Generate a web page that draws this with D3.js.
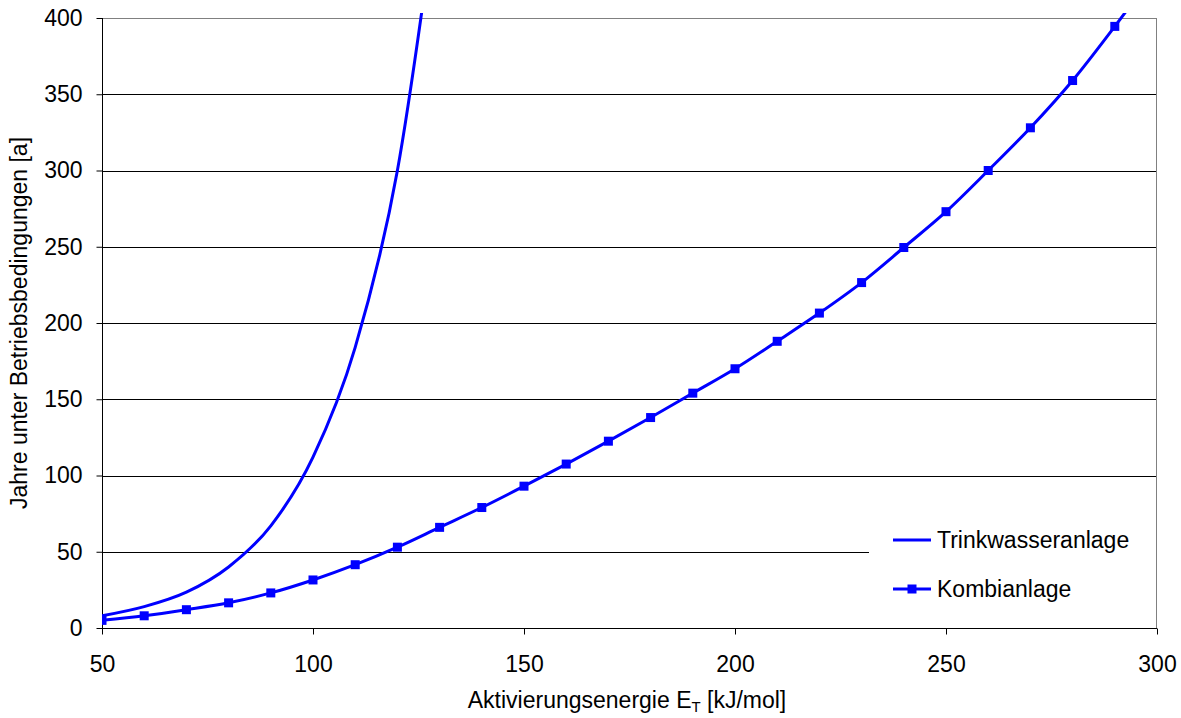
<!DOCTYPE html>
<html><head><meta charset="utf-8">
<script src="https://cdn.jsdelivr.net/npm/d3@7"></script>
<style>body{margin:0;background:#fff}svg{display:block}text{font-family:"Liberation Sans",Arial,sans-serif;fill:#000}</style>
</head><body>
<svg id="c" width="1181" height="718"></svg>
<script>
const energyTrink = [50,60,70,80,90,100,110,120,130];
const yearsTrink  = [8,14,23.5,40,67,112,184,300,490];
const energyKombi = [50,60,70,80,90,100,110,120,130,140,150,160,170,180,190,200,210,220,230,240,250,260,270,280,290,300];
const yearsKombi  = [5,8,12,16.5,23,31.5,41.5,53,66,79,93,107.5,122.5,138,154,170,188,206.5,226.5,249.5,273,300,328,359,394.5,432];
const xTicks = [50,100,150,200,250,300];
const yTicks = [0,50,100,150,200,250,300,350,400];
const seriesNames = ["Trinkwasseranlage","Kombianlage"];

const svg = d3.select("#c");
const L=102, R=1157, T=18, B=628;
const FS=23;
const x = d3.scaleLinear().domain([50,300]).range([L,R]);
const y = d3.scaleLinear().domain([0,400]).range([B,T]);
const blue="#0000ff";

// gridlines
svg.append("g").selectAll("line").data(yTicks.filter(d=>d>0)).join("line")
  .attr("x1",L).attr("x2",R).attr("y1",d=>Math.round(y(d))+0.5).attr("y2",d=>Math.round(y(d))+0.5)
  .attr("stroke",d=>d===400?"#808080":"#000").attr("stroke-width",1);
// right border
svg.append("line").attr("x1",R-0.5).attr("x2",R-0.5).attr("y1",T).attr("y2",B).attr("stroke","#808080");

// legend box (hides gridline)
svg.append("rect").attr("x",869).attr("y",513).attr("width",R-1-869).attr("height",B-1-513).attr("fill","#fff");

// axes
const xAxis = d3.axisBottom(x).tickValues(xTicks).tickSize(6).tickFormat(d3.format("d"));
const gx = svg.append("g").attr("transform",`translate(0,${B+0.5})`).call(xAxis);
gx.select(".domain").attr("stroke","#000").attr("d",`M${L},0H${R}`);
gx.selectAll(".tick line").attr("stroke","#000");
gx.selectAll(".tick text").attr("font-size",FS).attr("font-family","Liberation Sans, Arial, sans-serif").attr("y",43).attr("dy",0);

const yAxis = d3.axisLeft(y).tickValues(yTicks).tickSize(6).tickPadding(14).tickFormat(d3.format("d"));
const gy = svg.append("g").attr("transform",`translate(${L+0.5},0)`).call(yAxis);
gy.select(".domain").attr("stroke","#000").attr("d",`M0,${T}V${B}`);
gy.selectAll(".tick line").attr("stroke","#000");
gy.selectAll(".tick text").attr("font-size",FS).attr("font-family","Liberation Sans, Arial, sans-serif");

// clip
svg.append("clipPath").attr("id","clip").append("rect").attr("x",L).attr("y",13).attr("width",R-L).attr("height",B-13+10);

const line = d3.line().x(d=>x(d[0])).y(d=>y(d[1])).curve(d3.curveMonotoneX);
const trink = energyTrink.map((e,i)=>[e,yearsTrink[i]]);
const kombi = energyKombi.map((e,i)=>[e,yearsKombi[i]]);
const plot = svg.append("g").attr("clip-path","url(#clip)");
plot.append("path").datum(trink).attr("d",line).attr("fill","none").attr("stroke",blue).attr("stroke-width",3);
plot.append("path").datum(kombi).attr("d",line).attr("fill","none").attr("stroke",blue).attr("stroke-width",3);
plot.append("g").selectAll("rect").data(kombi.filter(d=>d[1]<=400)).join("rect")
  .attr("x",d=>x(d[0])-4.5).attr("y",d=>y(d[1])-4.5).attr("width",9).attr("height",9).attr("fill",blue);

// axis titles
svg.append("text").attr("x",627).attr("y",708).attr("text-anchor","middle").attr("font-size",FS)
  .html('Aktivierungsenergie E<tspan dy="4" font-size="15">T</tspan><tspan dy="-4"> [kJ/mol]</tspan>');
svg.append("text").attr("transform","translate(27,323) rotate(-90)").attr("text-anchor","middle").attr("font-size",FS)
  .text("Jahre unter Betriebsbedingungen [a]");

// legend
const lg = svg.append("g");
[540,589].forEach((ly,i)=>{
  lg.append("line").attr("x1",893).attr("x2",931).attr("y1",ly).attr("y2",ly).attr("stroke",blue).attr("stroke-width",3);
  if(i===1) lg.append("rect").attr("x",912-4.5).attr("y",ly-4.5).attr("width",9).attr("height",9).attr("fill",blue);
  lg.append("text").attr("x",937).attr("y",ly+7.5).attr("font-size",FS).text(seriesNames[i]);
});
</script>
</body></html>
